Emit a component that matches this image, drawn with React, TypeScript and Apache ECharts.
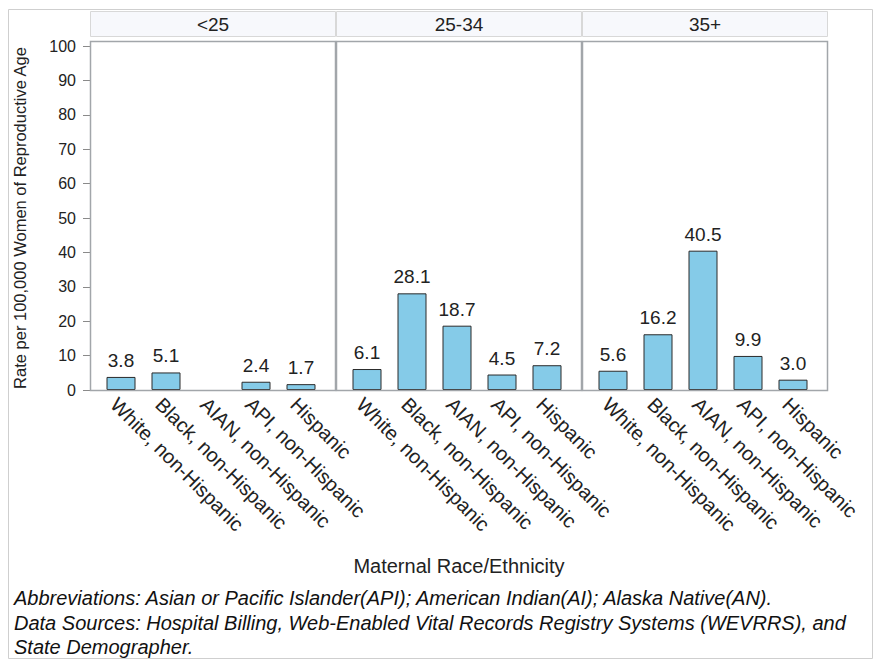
import React, { useEffect, useRef } from "react";
import * as echarts from "echarts";

const categories = [
  "White, non-Hispanic",
  "Black, non-Hispanic",
  "AIAN, non-Hispanic",
  "API, non-Hispanic",
  "Hispanic",
];
const ageGroups = ["<25", "25-34", "35+"];
const rateUnder25: (number | null)[] = [3.8, 5.1, null, 2.4, 1.7];
const rate25to34: (number | null)[] = [6.1, 28.1, 18.7, 4.5, 7.2];
const rate35plus: (number | null)[] = [5.6, 16.2, 40.5, 9.9, 3.0];
const yTicks = { min: 0, max: 100, interval: 10 };
const yAxisTitle = "Rate per 100,000 Women of Reproductive Age";
const xAxisTitle = "Maternal Race/Ethnicity";
const footnotes = [
  "Abbreviations: Asian or Pacific Islander(API); American Indian(AI); Alaska Native(AN).",
  "Data Sources: Hospital Billing, Web-Enabled Vital Records Registry Systems (WEVRRS), and",
  "State Demographer.",
];

const seriesData = [rateUnder25, rate25to34, rate35plus];

export default function App() {
  const ref = useRef<HTMLDivElement>(null);
  useEffect(() => {
    if (!ref.current) return;
    const chart = echarts.init(ref.current, null, { renderer: "svg" });
    const panelLefts = [90, 336, 582];
    const panelW = 246;
    const plotTop = 41;
    const axisTop = 46;
    const axisBottom = 390;
    const font = "Arial, 'Liberation Sans', sans-serif";

    const grids = panelLefts.map((l) => ({
      left: l + 8.5,
      width: 225,
      top: axisTop,
      height: axisBottom - axisTop,
      containLabel: false,
    }));
    const xAxes = panelLefts.map((_, i) => ({
      type: "category",
      gridIndex: i,
      data: categories,
      axisLine: { show: false },
      axisTick: { show: false },
      axisLabel: {
        interval: 0,
        rotate: -45,
        margin: 4,
        align: "left",
        verticalAlign: "top",
        fontSize: 20,
        color: "#222",
        fontFamily: font,
      },
    }));
    const yAxes = panelLefts.map((_, i) => ({
      type: "value",
      gridIndex: i,
      min: yTicks.min,
      max: yTicks.max,
      interval: yTicks.interval,
      offset: 8.5,
      splitLine: { show: false },
      axisLine: { show: false },
      axisTick: {
        show: i === 0,
        length: 7,
        lineStyle: { color: "#8a8a8a" },
      },
      axisLabel: {
        show: i === 0,
        fontSize: 16,
        color: "#222",
        margin: 14,
        fontFamily: font,
      },
      name: i === 0 ? yAxisTitle : "",
      nameLocation: "middle",
      nameGap: 62,
      nameTextStyle: { fontSize: 16.5, color: "#222", fontFamily: font },
    }));
    const series = seriesData.map((d, i) => ({
      type: "bar",
      name: ageGroups[i],
      xAxisIndex: i,
      yAxisIndex: i,
      data: d.map((v) => (v === null ? "-" : v)),
      barWidth: 29,
      itemStyle: { color: "#85cbe8", borderColor: "#2a2a2a", borderWidth: 1 },
      label: {
        show: true,
        position: "top",
        distance: 7,
        fontSize: 19,
        color: "#222",
        fontFamily: font,
        formatter: (p: any) => Number(p.value).toFixed(1),
      },
    }));

    const graphics: any[] = [
      {
        type: "rect",
        shape: { x: 8.5, y: 9.5, width: 864, height: 649 },
        style: { fill: "none", stroke: "#cfcfcf", lineWidth: 1 },
        silent: true,
        z: -10,
      },
    ];
    panelLefts.forEach((l, i) => {
      graphics.push({
        type: "rect",
        shape: { x: l + 0.5, y: 11.5, width: panelW - 1, height: 25 },
        style: { fill: "#f7f8fc", stroke: "#d8d8d8", lineWidth: 1 },
        silent: true,
      });
      graphics.push({
        type: "text",
        x: l + panelW / 2,
        y: 24,
        style: {
          text: ageGroups[i],
          fontSize: 19,
          fill: "#222",
          fontFamily: font,
          textAlign: "center",
          textVerticalAlign: "middle",
        },
        silent: true,
      });
      graphics.push({
        type: "rect",
        shape: { x: l + 0.5, y: plotTop + 0.5, width: panelW - 1, height: axisBottom - plotTop },
        style: { fill: "none", stroke: "#a2a6aa", lineWidth: 1.5 },
        silent: true,
        z: 10,
      });
    });
    graphics.push({
      type: "text",
      x: 459,
      y: 566,
      style: {
        text: xAxisTitle,
        fontSize: 20,
        fill: "#222",
        fontFamily: font,
        textAlign: "center",
        textVerticalAlign: "middle",
      },
      silent: true,
    });
    footnotes.forEach((t, i) => {
      graphics.push({
        type: "text",
        x: 14,
        y: 598 + i * 24.5,
        style: {
          text: t,
          fontSize: 20,
          fontStyle: "italic",
          fill: "#111",
          fontFamily: font,
          textAlign: "left",
          textVerticalAlign: "middle",
        },
        silent: true,
      });
    });

    chart.setOption({
      animation: false,
      backgroundColor: "#ffffff",
      grid: grids,
      xAxis: xAxes,
      yAxis: yAxes,
      series,
      graphic: graphics,
    });
    return () => chart.dispose();
  }, []);
  return (
    <div
      ref={ref}
      style={{ position: "absolute", left: 0, top: 0, width: 875, height: 661 }}
    />
  );
}
